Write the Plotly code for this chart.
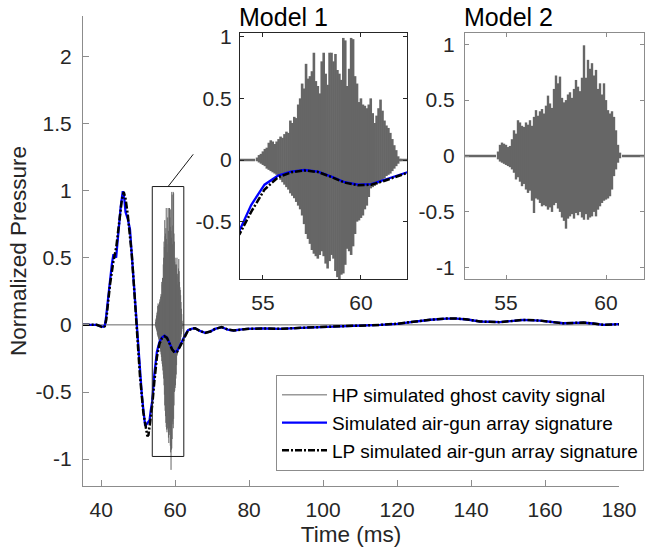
import plotly.graph_objects as go

FONT = "Liberation Sans, Arial, Helvetica, sans-serif"
TEXT = "#262626"
AXGREY = "#8c8c8c"
HPGREY = "#666666"

# ---------------- data ----------------
# Simulated air-gun array signature (time in ms, normalized pressure)
sim_t = [35, 38.8, 39.7, 40.6, 41.0, 41.35, 41.9, 42.4, 42.9, 43.3, 43.7, 44.05, 44.4, 44.7,
         45.3, 45.86, 46.3, 46.6, 46.75, 47.2, 47.8, 48.2, 48.7, 49.2, 49.6, 50.5, 51.0,
         51.4, 51.9, 52.3, 52.8, 53.1, 53.4, 53.81, 54.4, 55.08, 55.77, 56.44, 57.13, 57.8,
         58.49, 59.17, 59.85, 60.53, 61.21, 61.89, 62.3, 62.8, 63.5, 64.4, 65.4, 66.7, 68.1,
         69.5, 70.8, 72.6, 74.2, 75.8, 77.5, 79.4, 84, 88.4, 94, 100, 107, 115.4, 120, 124.3,
         129, 133.4, 136.1, 139, 142.4, 147.8, 151, 154.1, 158.6, 162, 164.9, 168, 170.4,
         173, 175.8, 180]
sim_p = [0, 0, -0.01, -0.015, -0.005, 0.06, 0.2, 0.34, 0.45, 0.52, 0.52, 0.50, 0.62, 0.73,
         0.88, 0.995, 0.93, 0.84, 0.83, 0.79, 0.71, 0.55, 0.34, 0.16, -0.01, -0.36, -0.52,
         -0.63, -0.75, -0.74, -0.72, -0.71, -0.64, -0.57, -0.365, -0.2, -0.127, -0.095, -0.081,
         -0.095, -0.135, -0.18, -0.2, -0.195, -0.16, -0.12, -0.1, -0.07, -0.04, -0.03, -0.025,
         -0.045, -0.06, -0.05, -0.03, -0.017, -0.035, -0.042, -0.035, -0.03, -0.027, -0.03,
         -0.022, -0.017, -0.01, 0.0, 0.008, 0.025, 0.038, 0.047, 0.047, 0.04, 0.025, 0.02,
         0.028, 0.037, 0.032, 0.022, 0.012, 0.015, 0.017, 0.01, 0.0, 0.005]

# Low-pass filtered simulated signature
lp_t = [35, 38.8, 39.7, 40.6, 41.0, 41.4, 42.4, 43.3, 44.1, 44.8, 45.6, 46.1, 46.6, 47.2,
        47.8, 48.3, 48.8, 49.6, 50.5, 51.4, 52.0, 52.5, 52.8, 53.2, 53.81, 54.4, 55.08, 55.77,
        56.44, 57.13, 57.8, 58.49, 59.17, 59.85, 60.53, 61.21, 61.89, 62.3, 62.8, 63.5, 64.4,
        65.4, 66.7, 68.1, 69.5, 70.8, 72.6, 74.2, 75.8, 77.5, 79.4, 84, 88.4, 94, 100, 107,
        115.4, 120, 124.3, 129, 133.4, 136.1, 139, 142.4, 147.8, 151, 154.1, 158.6, 162,
        164.9, 168, 170.4, 173, 175.8, 180]
lp_p = [0, 0, -0.01, -0.02, -0.01, 0.04, 0.30, 0.47, 0.58, 0.75, 0.93, 0.99, 0.94, 0.82,
        0.68, 0.52, 0.32, -0.02, -0.38, -0.65, -0.77, -0.83, -0.82, -0.74, -0.60, -0.42,
        -0.24, -0.14, -0.10, -0.085, -0.097, -0.138, -0.183, -0.205, -0.2, -0.168, -0.13,
        -0.11, -0.075, -0.042, -0.03, -0.025, -0.045, -0.06, -0.05, -0.03, -0.017, -0.035,
        -0.042, -0.035, -0.03, -0.027, -0.03, -0.022, -0.017, -0.01, 0.0, 0.008, 0.025,
        0.038, 0.047, 0.047, 0.04, 0.025, 0.02, 0.028, 0.037, 0.032, 0.022, 0.012, 0.015,
        0.017, 0.01, 0.0, 0.005]

# HP simulated ghost cavity signal, Model 1: positive / negative peak amplitudes,
# one oscillation every 0.1 ms starting at 54.6 ms
hp1_start, hp1_step = 54.6, 0.1
hp1_pos = [0.00, 0.02, 0.04, 0.05, 0.07, 0.09, 0.10, 0.14, 0.16, 0.15,
           0.13, 0.15, 0.17, 0.19, 0.18, 0.21, 0.23, 0.22, 0.32, 0.30,
           0.35, 0.34, 0.45, 0.50, 0.62, 0.58, 0.78, 0.66, 0.68, 0.72,
           0.87, 0.64, 0.60, 0.54, 0.80, 0.87, 0.70, 0.61, 0.87, 0.87,
           0.80, 0.86, 0.73, 0.70, 0.65, 0.99, 0.97, 0.60, 0.74, 0.99,
           0.98, 0.68, 0.62, 0.47, 0.50, 0.45, 0.44, 0.42, 0.45, 0.50,
           0.38, 0.30, 0.36, 0.42, 0.49, 0.40, 0.32, 0.28, 0.26, 0.22,
           0.17, 0.12, 0.08, 0.03, 0.01]
hp1_neg = [0.00, -0.01, -0.02, -0.03, -0.04, -0.05, -0.07, -0.08, -0.09, -0.10,
           -0.11, -0.12, -0.13, -0.16, -0.18, -0.20, -0.22, -0.24, -0.27, -0.29,
           -0.31, -0.34, -0.37, -0.40, -0.45, -0.52, -0.60, -0.64, -0.68, -0.73,
           -0.76, -0.78, -0.80, -0.77, -0.74, -0.78, -0.84, -0.88, -0.82, -0.77,
           -0.80, -0.90, -0.95, -1.08, -0.93, -0.92, -0.85, -0.72, -0.74, -0.77,
           -0.70, -0.60, -0.50, -0.49, -0.47, -0.45, -0.40, -0.37, -0.30, -0.23,
           -0.22, -0.21, -0.20, -0.19, -0.18, -0.17, -0.15, -0.13, -0.12, -0.11,
           -0.09, -0.07, -0.05, -0.03, -0.01]

# Model 2
hp2_start, hp2_step = 54.5, 0.1
hp2_pos = [0.00, 0.04, 0.10, 0.12, 0.11, 0.10, 0.08, 0.09, 0.15, 0.23,
           0.20, 0.32, 0.30, 0.27, 0.26, 0.30, 0.28, 0.32, 0.27, 0.35,
           0.41, 0.36, 0.40, 0.42, 0.38, 0.45, 0.54, 0.47, 0.43, 0.60,
           0.72, 0.65, 0.71, 0.52, 0.48, 0.50, 0.55, 0.57, 0.52, 0.60,
           0.68, 0.62, 0.58, 0.70, 0.99, 0.70, 0.86, 0.78, 0.83, 0.72,
           0.77, 0.60, 0.65, 0.55, 0.65, 0.50, 0.41, 0.38, 0.40, 0.35,
           0.23, 0.10, 0.03, 0.00]
hp2_neg = [0.00, -0.03, -0.05, -0.06, -0.07, -0.08, -0.09, -0.10, -0.12, -0.15,
           -0.21, -0.19, -0.23, -0.27, -0.25, -0.30, -0.33, -0.31, -0.40, -0.51,
           -0.38, -0.39, -0.42, -0.45, -0.44, -0.45, -0.48, -0.46, -0.50, -0.44,
           -0.42, -0.47, -0.50, -0.55, -0.58, -0.65, -0.56, -0.54, -0.52, -0.56,
           -0.51, -0.53, -0.50, -0.55, -0.57, -0.52, -0.57, -0.55, -0.54, -0.50,
           -0.54, -0.48, -0.45, -0.42, -0.40, -0.39, -0.38, -0.36, -0.30, -0.18,
           -0.12, -0.06, -0.02, 0.00]

t_min, t_max = 35.1, 180
x_ticks = [40, 60, 80, 100, 120, 140, 160, 180]
y_ticks = [-1, -0.5, 0, 0.5, 1, 1.5, 2]
y_ticktext = ["-1", "-0.5", "0", "0.5", "1", "1.5", "2"]

inset1_x = [53.83, 62.35]
inset1_y = [-0.965, 1.03]
inset2_x = [52.95, 61.9]
inset2_y = [-1.1, 1.1]


def oscillation(start, step, pos, neg):
    """Quiet (zero) signal before/after the burst; during the burst each
    oscillation spans from its negative to its positive peak."""
    t_end = start + (len(pos) - 1) * step
    xs = [t_min, start, None]
    ys = [0.0, 0.0, None]
    for i, (p, n) in enumerate(zip(pos, neg)):
        t = start + i * step
        xs += [t, t, None]
        ys += [n, p, None]
    xs += [t_end, t_max]
    ys += [0.0, 0.0]
    return xs, ys


hp1_x, hp1_y = oscillation(hp1_start, hp1_step, hp1_pos, hp1_neg)
hp2_x, hp2_y = oscillation(hp2_start, hp2_step, hp2_pos, hp2_neg)

LP_DASH = "7px,2px,2px,2px"

fig = go.Figure()
# main axes
fig.add_trace(go.Scatter(x=hp1_x, y=hp1_y, mode="lines", name="HP simulated ghost cavity signal",
                         line=dict(color=HPGREY, width=1), xaxis="x", yaxis="y"))
fig.add_trace(go.Scatter(x=sim_t, y=sim_p, mode="lines", name="Simulated air-gun array signature",
                         line=dict(color="#0000ff", width=2.3), xaxis="x", yaxis="y"))
fig.add_trace(go.Scatter(x=lp_t, y=lp_p, mode="lines", name="LP simulated air-gun array signature",
                         line=dict(color="#000000", width=2.5, dash=LP_DASH), xaxis="x", yaxis="y"))
# inset 1
fig.add_trace(go.Scatter(x=hp1_x, y=hp1_y, mode="lines", showlegend=False,
                         line=dict(color=HPGREY, width=2.6), xaxis="x2", yaxis="y2"))
fig.add_trace(go.Scatter(x=sim_t, y=sim_p, mode="lines", showlegend=False,
                         line=dict(color="#0000ff", width=2.3), xaxis="x2", yaxis="y2"))
fig.add_trace(go.Scatter(x=lp_t, y=lp_p, mode="lines", showlegend=False,
                         line=dict(color="#000000", width=2.5, dash=LP_DASH), xaxis="x2", yaxis="y2"))
# inset 2
fig.add_trace(go.Scatter(x=hp2_x, y=hp2_y, mode="lines", showlegend=False,
                         line=dict(color=HPGREY, width=2.4), xaxis="x3", yaxis="y3"))

tickfont = dict(family=FONT, size=21, color=TEXT)
common = dict(showgrid=False, zeroline=False, showline=True, ticks="inside",
              tickfont=tickfont)

PW = 645 - 83 - 1   # plot-area width in px
PH = 554 - 16 - 68  # plot-area height in px

fig.update_layout(
    width=645, height=554, autosize=False,
    margin=dict(l=83, r=1, t=16, b=68, autoexpand=False),
    paper_bgcolor="white", plot_bgcolor="white",
    font=dict(family=FONT, color=TEXT),
    showlegend=True,
    legend=dict(x=1.0, y=(486 - 375) / PH, xanchor="right", yanchor="top",
                bgcolor="white", bordercolor=AXGREY, borderwidth=1, itemwidth=45,
                font=dict(family=FONT, size=19, color="#000000"), tracegroupgap=0),
    xaxis=dict(domain=[0, 536 / PW], range=[t_min, t_max], tickvals=x_ticks,
               linecolor=AXGREY, tickcolor=AXGREY, ticklen=6, anchor="y",
               ticklabelstandoff=5,
               title=dict(text="Time (ms)", font=dict(family=FONT, size=22.5, color=TEXT), standoff=6),
               **common),
    yaxis=dict(domain=[0, 1], range=[-1.2, 2.3], tickvals=y_ticks, ticktext=y_ticktext,
               linecolor=AXGREY, tickcolor=AXGREY, ticklen=6, anchor="x",
               ticklabelstandoff=6,
               title=dict(text="Normalized Pressure", font=dict(family=FONT, size=22.5, color=TEXT), standoff=2),
               **common),
    xaxis2=dict(domain=[(240 - 83) / PW, (407 - 83) / PW], range=inset1_x, tickvals=[55, 60],
                linecolor=TEXT, tickcolor=TEXT, ticklen=4, anchor="y2", mirror="ticks",
                ticklabelstandoff=5, **common),
    yaxis2=dict(domain=[(486 - 279) / PH, (486 - 33) / PH], range=inset1_y,
                tickvals=[-0.5, 0, 0.5, 1], ticktext=["-0.5", "0", "0.5", "1"],
                linecolor=TEXT, tickcolor=TEXT, ticklen=4, anchor="x2", mirror="ticks",
                ticklabelstandoff=3, **common),
    xaxis3=dict(domain=[(465 - 83) / PW, 1.0], range=inset2_x, tickvals=[55, 60],
                linecolor=AXGREY, tickcolor=AXGREY, ticklen=4, anchor="y3", mirror="ticks",
                ticklabelstandoff=5, **common),
    yaxis3=dict(domain=[(486 - 279) / PH, (486 - 33) / PH], range=inset2_y,
                tickvals=[-1, -0.5, 0, 0.5, 1], ticktext=["-1", "-0.5", "0", "0.5", "1"],
                linecolor=AXGREY, tickcolor=AXGREY, ticklen=4, anchor="x3", mirror="ticks",
                ticklabelstandoff=5, **common),
)

# zoom rectangle on the main axes and connector towards inset 1
rect_y = [-0.98, 1.03]
fig.add_shape(type="rect", xref="x", yref="y", x0=inset1_x[0], x1=inset1_x[1],
              y0=rect_y[0], y1=rect_y[1], line=dict(color="#1a1a1a", width=1), layer="above")
fig.add_shape(type="line", xref="x", yref="y", x0=58.1, y0=rect_y[1], x1=64.9, y1=1.27,
              line=dict(color="#1a1a1a", width=1))

# inset titles
for txt, x0 in [("Model 1", (240 - 83) / PW), ("Model 2", (465 - 83) / PW)]:
    fig.add_annotation(text=txt, xref="paper", yref="paper", x=x0, y=(486 - 33) / PH,
                       xanchor="left", yanchor="bottom", showarrow=False, xshift=-3,
                       font=dict(family=FONT, size=25, color="#000000"))

fig.write_html("out.html", config={"responsive": False})
